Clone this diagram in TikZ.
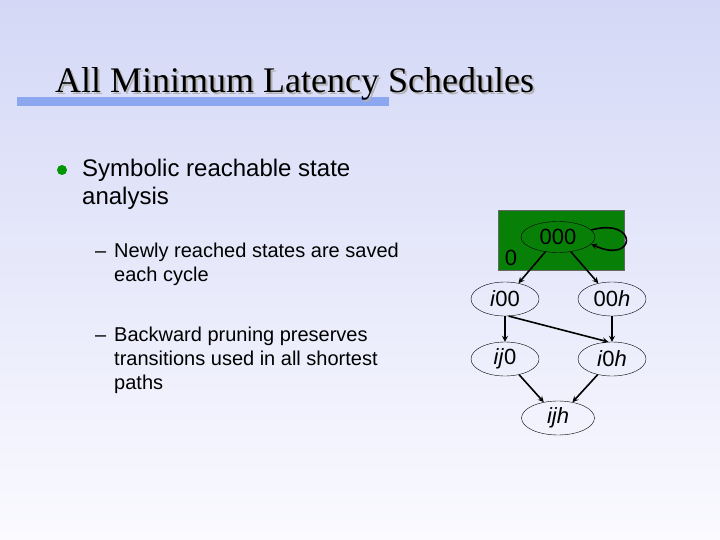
\documentclass[tikz,border=0pt]{standalone}
\usepackage{fontspec}
\setmainfont{Liberation Sans}
\newfontfamily\titlefont{Liberation Serif}
\usetikzlibrary{shapes.geometric}
\usetikzlibrary{positioning}

\definecolor{slidetop}{RGB}{212,216,246}
\definecolor{slidebottom}{RGB}{250,250,255}
\definecolor{titlebar}{RGB}{140,166,240}
\definecolor{bulletgreen}{RGB}{0,150,0}
\definecolor{boxgreen}{RGB}{8,128,8}

\tikzset{
  state/.style={draw, ellipse, thin, inner sep=0pt, minimum width=68pt,
    minimum height=34pt, font=\fontsize{22}{26}\selectfont},
  trans/.style={->, >=stealth, line width=1.6pt},
  bodytext/.style={anchor=base west, inner sep=0pt, font=\fontsize{24}{28}\selectfont},
  subtext/.style={anchor=base west, inner sep=0pt, font=\fontsize{20}{24}\selectfont}
}

\begin{document}
\begin{tikzpicture}[x=1pt, y=-1pt]
  \shade[top color=slidetop, bottom color=slidebottom] (0,0) rectangle (720,540);
  \useasboundingbox (0,0) rectangle (720,540);

  % title
  \fill[titlebar] (17,97) rectangle (389,106);
  \node[anchor=base west, inner sep=0pt, text=black!30, font=\titlefont\fontsize{36}{40}\selectfont]
    at (57,95) {All Minimum Latency Schedules};
  \node[anchor=base west, inner sep=0pt, font=\titlefont\fontsize{36}{40}\selectfont]
    (title) at (55,93) {All Minimum Latency Schedules};

  % bullets
  \fill[bulletgreen] (62,170) circle (5);
  \node[bodytext] (sym) at (82,177) {Symbolic reachable state};
  \node[bodytext] (ana) at (82,205) {analysis};

  \node[subtext] (d1) at (95,257) {--};
  \node[subtext] (newly) at (114,257) {Newly reached states are saved};
  \node[subtext] (cycle) at (114,281) {each cycle};
  \node[subtext] (d2) at (95,341) {--};
  \node[subtext] (back) at (114,341) {Backward pruning preserves};
  \node[subtext] (used) at (114,365) {transitions used in all shortest};
  \node[subtext] (paths) at (114,389) {paths};

  % state graph
  \draw[black!60, fill=boxgreen] (498,210) rectangle (624,270);
  \node[state, minimum width=74pt, minimum height=31pt] (s000) at (558,237) {000};
  \node[anchor=base, inner sep=0pt, font=\fontsize{22}{26}\selectfont] (zero) at (511,265) {0};

  \node[state] (i00) at (505,299) {\textit{i}00};
  \node[state] (h00) at (612,299) {00\textit{h}};
  \node[state] (ij0) at (505,359) {\textit{ij}0};
  \node[state] (i0h) at (612,359) {\textit{i}0\textit{h}};
  \node[state, minimum width=73pt] (ijh) at (558,418) {\textit{ijh}};

  \draw[trans] (s000.12) to[out=15, in=-25, looseness=9] (s000.-12);
  \draw[trans] (s000) -- (i00);
  \draw[trans] (s000) -- (h00);
  \draw[trans] (i00) -- (ij0);
  \draw[trans] (i00.-78) -- (i0h.102);
  \draw[trans] (h00) -- (i0h);
  \draw[trans] (ij0) -- (ijh);
  \draw[trans] (i0h) -- (ijh);
\end{tikzpicture}
\end{document}
